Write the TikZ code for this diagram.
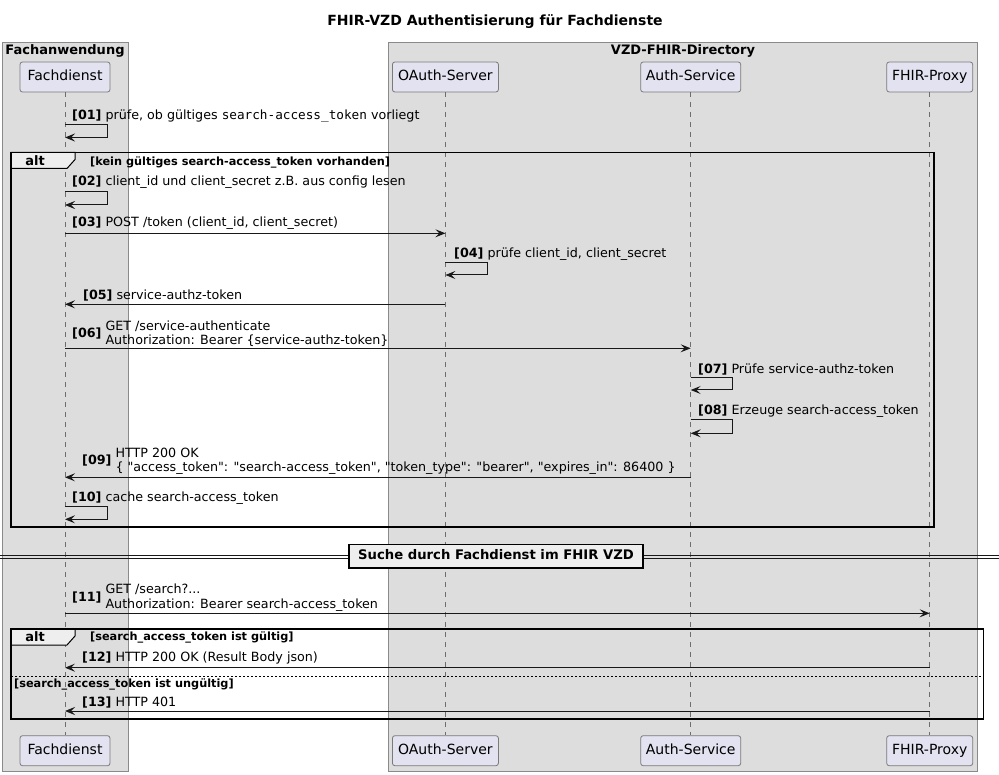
\documentclass[tikz,border=0pt]{standalone}
\usepackage{fontspec}
\setmainfont{DejaVu Sans}
% plain family without the TeX quote mapping, so " stays a straight quote
\newfontfamily\basefont{DejaVu Sans}
\newfontfamily\codefont{DejaVu Sans Mono}
\usetikzlibrary{arrows.meta}

\definecolor{grpfill}{HTML}{DDDDDD}
\definecolor{grpline}{HTML}{8A8A8A}
\definecolor{partfill}{HTML}{E2E2F0}
\definecolor{partline}{HTML}{7A7A7A}
\definecolor{tabfill}{HTML}{EEEEEE}
\definecolor{ink}{HTML}{181818}
\definecolor{lifegray}{HTML}{6E6E6E}

\newcommand\fsz[2]{\basefont\fontsize{#1}{#2}\selectfont}

\tikzset{
  grp/.style={fill=grpfill, draw=grpline, line width=1pt},
  grptitle/.style={inner sep=0pt, anchor=base, font=\fsz{13}{15}\bfseries},
  part/.style={draw=partline, fill=partfill, rounded corners=2.5pt, line width=0.8pt,
    minimum height=30pt, inner sep=0pt, text height=10.5pt, text depth=3pt,
    font=\fsz{14}{16}},
  life/.style={draw=lifegray, line width=0.8pt, dash pattern=on 5pt off 5pt},
  msg/.style={draw=ink, line width=1pt, -{Stealth[length=10pt,width=8pt,inset=4pt]}},
  lbl/.style={inner sep=0pt, anchor=base west, font=\fsz{12.7}{14.5}},
  lbltwo/.style={inner sep=0pt, anchor=west, font=\fsz{12.7}{14.5}},
  frame/.style={draw=black, line width=1.5pt},
  tab/.style={fill=tabfill, draw=black, line width=1pt},
  tabtext/.style={inner sep=0pt, anchor=base, font=\fsz{13}{15}\bfseries},
  guard/.style={inner sep=0pt, anchor=base west, font=\fsz{11.3}{13}\bfseries},
  elseline/.style={draw=black, line width=0.8pt, dash pattern=on 2pt off 2pt},
  divbox/.style={fill=tabfill, draw=black, line width=1.5pt, minimum width=294pt,
    minimum height=23.5pt, inner sep=0pt, text height=9.5pt, text depth=2.5pt,
    font=\fsz{13.2}{15}\bfseries}
}

\begin{document}
\basefont
\begin{tikzpicture}[x=1pt, y=-1pt]
\useasboundingbox (0,0) rectangle (999,775);

% title
\node[inner sep=0pt, anchor=base, font=\fsz{14}{16}\bfseries] (title) at (495,26)
  {FHIR-VZD Authentisierung für Fachdienste};

% participant groups
\draw[grp] (2,43) rectangle (128.3,771);
\draw[grp] (388.3,43) rectangle (977.5,771);
\node[grptitle] (gApp) at (65,55) {Fachanwendung};
\node[grptitle] (gVzd) at (683,55) {VZD-FHIR-Directory};

% participants, top and bottom
\node[part, minimum width=90pt]  (pFd) at (65,77)    {Fachdienst};
\node[part, minimum width=106pt] (pOa) at (445.4,77) {OAuth-Server};
\node[part, minimum width=100pt] (pAs) at (690.7,77) {Auth-Service};
\node[part, minimum width=86pt]  (pFp) at (929.7,77) {FHIR-Proxy};
\node[part, minimum width=90pt]  (qFd) at (65,750.7)    {Fachdienst};
\node[part, minimum width=106pt] (qOa) at (445.4,750.7) {OAuth-Server};
\node[part, minimum width=100pt] (qAs) at (690.7,750.7) {Auth-Service};
\node[part, minimum width=86pt]  (qFp) at (929.7,750.7) {FHIR-Proxy};

% lifelines
\draw[life] (pFd.south) -- (qFd.north);
\draw[life] (pOa.south) -- (qOa.north);
\draw[life] (pAs.south) -- (qAs.north);
\draw[life] (pFp.south) -- (qFp.north);

% [01]
\node[lbl] (t01) at (72,120) {\textbf{[01]} prüfe, ob gültiges {\codefont search-access\_token} vorliegt};
\draw[msg] (pFd |- 0,125) -- ++(42,0) -- ++(0,12.5) -- (pFd |- 0,137.5);

% first alt fragment
\draw[tab] (11,152.5) -- (75,152.5) -- (75,159.5) -- (67,168.5) -- (11,168.5) -- cycle;
\draw[frame] (11,152.5) rectangle (934,527);
\node[tabtext] (alt1) at (35,165.5) {alt};
\node[guard] (g1) at (90,165.5) {[kein gültiges search-access\_token vorhanden]};

% [02]
\node[lbl] (t02) at (72,186) {\textbf{[02]} client\_id und client\_secret z.B. aus config lesen};
\draw[msg] (pFd |- 0,191.7) -- ++(42,0) -- ++(0,13.3) -- (pFd |- 0,205);

% [03]
\node[lbl] (t03) at (72,227) {\textbf{[03]} POST /token (client\_id, client\_secret)};
\draw[msg] (pFd |- 0,233.3) -- (pOa |- 0,233.3);

% [04]
\node[lbl] (t04) at (454,258) {\textbf{[04]} prüfe client\_id, client\_secret};
\draw[msg] (pOa |- 0,262.7) -- ++(42,0) -- ++(0,12.3) -- (pOa |- 0,275);

% [05]
\node[lbl] (t05) at (83,299.5) {\textbf{[05]} service-authz-token};
\draw[msg] (pOa |- 0,304.3) -- (pFd |- 0,304.3);

% [06]
\node[lbltwo] (t06) at (72,334.5) {\textbf{[06]} \begin{tabular}{@{}l@{}}GET /service-authenticate\\Authorization: Bearer \{service-authz-token\}\end{tabular}};
\draw[msg] (pFd |- 0,348.3) -- (pAs |- 0,348.3);

% [07]
\node[lbl] (t07) at (698,373.5) {\textbf{[07]} Prüfe service-authz-token};
\draw[msg] (pAs |- 0,377.3) -- ++(42,0) -- ++(0,12.7) -- (pAs |- 0,390);

% [08]
\node[lbl] (t08) at (698,415) {\textbf{[08]} Erzeuge search-access\_token};
\draw[msg] (pAs |- 0,420) -- ++(42,0) -- ++(0,13.3) -- (pAs |- 0,433.3);

% [09]
\node[lbltwo] (t09) at (82,461.6) {\textbf{[09]} \begin{tabular}{@{}l@{}}HTTP 200 OK\\\{ "access\_token": "search-access\_token", "token\_type": "bearer", "expires\_in": 86400 \}\end{tabular}};
\draw[msg] (pAs |- 0,477.3) -- (pFd |- 0,477.3);

% [10]
\node[lbl] (t10) at (72,501) {\textbf{[10]} cache search-access\_token};
\draw[msg] (pFd |- 0,506.7) -- ++(42,0) -- ++(0,12.6) -- (pFd |- 0,519.3);

% divider
\draw[draw=ink, line width=1pt] (0,555) -- (999,555) (0,558) -- (999,558);
\node[divbox] (div) at (496,556) {Suche durch Fachdienst im FHIR VZD};

% [11]
\node[lbltwo] (t11) at (72,598) {\textbf{[11]} \begin{tabular}{@{}l@{}}GET /search?...\\Authorization: Bearer search-access\_token\end{tabular}};
\draw[msg] (pFd |- 0,613.3) -- (pFp |- 0,613.3);

% second alt fragment
\draw[tab] (11,629) -- (75,629) -- (75,636) -- (67,645) -- (11,645) -- cycle;
\draw[frame] (11,629) rectangle (983.5,719);
\node[tabtext] (alt2) at (35,641.5) {alt};
\node[guard] (g2) at (90,640.8) {[search\_access\_token ist gültig]};

% [12]
\node[lbl] (t12) at (82,661) {\textbf{[12]} HTTP 200 OK (Result Body json)};
\draw[msg] (pFp |- 0,667.7) -- (pFd |- 0,667.7);

% else branch
\draw[elseline] (11,676.7) -- (983.5,676.7);
\node[guard] (g3) at (14,687.5) {[search\_access\_token ist ungültig]};

% [13]
\node[lbl] (t13) at (82,706) {\textbf{[13]} HTTP 401};
\draw[msg] (pFp |- 0,711) -- (pFd |- 0,711);

\end{tikzpicture}
\end{document}
